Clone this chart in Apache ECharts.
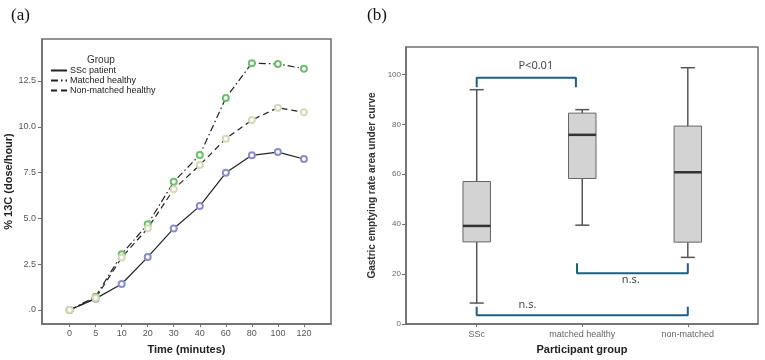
<!DOCTYPE html>
<html>
<head>
<meta charset="utf-8">
<script src="https://cdn.jsdelivr.net/npm/echarts@6/dist/echarts.min.js"></script>
<style>
  html, body { margin: 0; padding: 0; background: #fff; }
  #chart { width: 765px; height: 360px; }
</style>
</head>
<body>
<div id="chart"></div>
<script>
// (a) 呼气试验曲线
var times = ['0', '5', '10', '20', '30', '40', '60', '80', '100', '120'];
var sscPatient = [0, 0.62, 1.42, 2.89, 4.45, 5.67, 7.49, 8.44, 8.62, 8.24];
var matchedHealthy = [0, 0.73, 3.04, 4.68, 7.0, 8.46, 11.57, 13.47, 13.43, 13.17];
var nonMatchedHealthy = [0, 0.65, 2.86, 4.46, 6.59, 7.91, 9.35, 10.37, 11.04, 10.79];
var leftTicks = [0, 2.5, 5, 7.5, 10, 12.5];

// (b) 箱线图: [min, Q1, median, Q3, max]
var groups = ['SSc', 'matched healthy', 'non-matched'];
var boxSSc = [8.4, 32.9, 39.3, 57.1, 93.9];
var boxMatched = [39.6, 58.3, 75.8, 84.5, 85.9];
var boxNonMatched = [26.7, 32.8, 60.8, 79.3, 102.7];
var rightTicks = [0, 20, 40, 60, 80, 100];

// 显著性标注
var bracketP = [[0, 94.9], [0, 98.7], [0.94, 98.7], [0.94, 94.9]];
var bracketNs1 = [[0.95, 24.3], [0.95, 20.3], [2, 20.3], [2, 24.3]];
var bracketNs2 = [[0, 6.9], [0, 3.5], [2, 3.5], [2, 6.9]];
var notes = [
  { name: 'P<0.01', value: [0.56, 103.3] },
  { name: 'n.s.', value: [1.46, 17.6] },
  { name: 'n.s.', value: [0.48, 7.7] }
];

function toPoints(arr) {
  return arr.map(function (v, i) { return [i, v]; });
}

var boxData = [boxSSc, boxMatched, boxNonMatched].map(function (b, i) {
  return [i].concat(b);
});

var axisGray = '#6e6e6e';
var titleStyle = { color: '#222', fontSize: 11, fontWeight: 'bold', fontFamily: 'Liberation Sans' };
var bracketColor = '#1f5f80';

var myChart = echarts.init(document.getElementById('chart'));
var option = {
  animation: false,
  title: [
    { text: '(a)', left: 6, top: 2, textStyle: { fontFamily: 'Liberation Serif', fontSize: 17, fontWeight: 'normal', color: '#111' } },
    { text: '(b)', left: 362, top: 2, textStyle: { fontFamily: 'Liberation Serif', fontSize: 17, fontWeight: 'normal', color: '#111' } },
    { text: 'Group', left: 87, top: 55, padding: 0, textStyle: { fontFamily: 'Liberation Sans', fontSize: 10, fontWeight: 'normal', color: '#333' } }
  ],
  legend: {
    orient: 'vertical',
    left: 50,
    top: 66,
    padding: 0,
    itemWidth: 16,
    itemHeight: 8,
    itemGap: 1,
    itemStyle: { opacity: 0 },
    textStyle: { fontSize: 9, color: '#222', fontFamily: 'Liberation Sans', padding: [0, 0, 0, -2] },
    data: ['SSc patient', 'Matched healthy', 'Non-matched healthy']
  },
  grid: [
    { left: 42, top: 39, width: 289, height: 285, show: true, borderColor: axisGray, borderWidth: 1.5, backgroundColor: 'transparent' },
    { left: 406, top: 47, width: 352, height: 278, show: true, borderColor: axisGray, borderWidth: 1.5, backgroundColor: 'transparent' }
  ],
  xAxis: [
    {
      gridIndex: 0,
      type: 'value',
      min: -1.06,
      max: 10.04,
      name: 'Time (minutes)',
      nameLocation: 'middle',
      nameGap: 20,
      nameTextStyle: titleStyle,
      splitLine: { show: false },
      axisLine: { show: true, onZero: false, lineStyle: { color: axisGray, width: 1.5 } },
      axisTick: { show: true, length: 3, customValues: [0, 1, 2, 3, 4, 5, 6, 7, 8, 9], lineStyle: { color: axisGray } },
      axisLabel: {
        margin: 5,
        customValues: [0, 1, 2, 3, 4, 5, 6, 7, 8, 9],
        formatter: function (v) { return times[Math.round(v)]; },
        color: '#555', fontSize: 9, fontFamily: 'Liberation Sans'
      }
    },
    {
      gridIndex: 1,
      type: 'value',
      min: -0.67,
      max: 2.665,
      name: 'Participant group',
      nameLocation: 'middle',
      nameGap: 20,
      nameTextStyle: titleStyle,
      splitLine: { show: false },
      axisLine: { show: true, onZero: false, lineStyle: { color: axisGray, width: 1.5 } },
      axisTick: { show: true, length: 3, customValues: [0, 1, 2], lineStyle: { color: axisGray } },
      axisLabel: {
        margin: 6,
        customValues: [0, 1, 2],
        formatter: function (v) { return groups[Math.round(v)]; },
        color: '#666', fontSize: 9, fontFamily: 'Liberation Sans'
      }
    }
  ],
  yAxis: [
    {
      gridIndex: 0,
      type: 'value',
      min: -0.764,
      max: 14.79,
      name: '% 13C (dose/hour)',
      nameLocation: 'middle',
      nameGap: 24,
      nameTextStyle: titleStyle,
      splitLine: { show: false },
      axisLine: { show: true, onZero: false, lineStyle: { color: axisGray, width: 1.5 } },
      axisTick: { show: true, length: 4, customValues: leftTicks, lineStyle: { color: axisGray } },
      axisLabel: {
        margin: 6,
        customValues: leftTicks,
        formatter: function (v) { return v === 0 ? '.0' : v.toFixed(1); },
        color: '#555', fontSize: 9, fontFamily: 'Liberation Sans'
      }
    },
    {
      gridIndex: 1,
      type: 'value',
      min: 0,
      max: 111,
      name: 'Gastric emptying rate area under curve',
      nameLocation: 'middle',
      nameGap: 29,
      nameTextStyle: { color: '#333', fontSize: 10, fontWeight: 'bold', fontFamily: 'Liberation Sans' },
      splitLine: { show: false },
      axisLine: { show: true, onZero: false, lineStyle: { color: axisGray, width: 1.5 } },
      axisTick: { show: true, length: 4, customValues: rightTicks, lineStyle: { color: axisGray } },
      axisLabel: {
        margin: 5,
        customValues: rightTicks,
        color: '#666', fontSize: 8, fontFamily: 'Liberation Sans'
      }
    }
  ],
  series: [
    {
      name: 'SSc patient',
      type: 'line',
      xAxisIndex: 0, yAxisIndex: 0,
      data: toPoints(sscPatient),
      symbol: 'emptyCircle',
      symbolSize: 6,
      lineStyle: { color: '#222', width: 1.2, type: 'solid' },
      itemStyle: { color: '#8a8ccc', borderWidth: 1 }
    },
    {
      name: 'Matched healthy',
      type: 'line',
      xAxisIndex: 0, yAxisIndex: 0,
      data: toPoints(matchedHealthy),
      symbol: 'emptyCircle',
      symbolSize: 6,
      lineStyle: { color: '#222', width: 1.2, type: [7, 3, 1.5, 3] },
      itemStyle: { color: '#6cc06c', borderWidth: 1 }
    },
    {
      name: 'Non-matched healthy',
      type: 'line',
      xAxisIndex: 0, yAxisIndex: 0,
      data: toPoints(nonMatchedHealthy),
      symbol: 'emptyCircle',
      symbolSize: 6,
      lineStyle: { color: '#222', width: 1.2, type: [6, 4] },
      itemStyle: { color: '#d6d9b8', borderWidth: 1 }
    },
    {
      type: 'custom',
      xAxisIndex: 1, yAxisIndex: 1,
      data: boxData,
      encode: { x: 0, y: [1, 2, 3, 4, 5] },
      renderItem: function (params, api) {
        var x = api.value(0);
        var lo = api.coord([x, api.value(1)]);
        var q1 = api.coord([x, api.value(2)]);
        var md = api.coord([x, api.value(3)]);
        var q3 = api.coord([x, api.value(4)]);
        var hi = api.coord([x, api.value(5)]);
        var cx = lo[0];
        var bw = 27.5, cw = 14;
        var ws = { stroke: '#555', lineWidth: 1.5 };
        return {
          type: 'group',
          children: [
            { type: 'line', shape: { x1: cx, y1: hi[1], x2: cx, y2: q3[1] }, style: ws },
            { type: 'line', shape: { x1: cx, y1: q1[1], x2: cx, y2: lo[1] }, style: ws },
            { type: 'line', shape: { x1: cx - cw / 2, y1: hi[1], x2: cx + cw / 2, y2: hi[1] }, style: ws },
            { type: 'line', shape: { x1: cx - cw / 2, y1: lo[1], x2: cx + cw / 2, y2: lo[1] }, style: ws },
            { type: 'rect', shape: { x: cx - bw / 2, y: q3[1], width: bw, height: q1[1] - q3[1] }, style: { fill: '#d3d3d3', stroke: '#666', lineWidth: 1 } },
            { type: 'line', shape: { x1: cx - bw / 2, y1: md[1], x2: cx + bw / 2, y2: md[1] }, style: { stroke: '#333', lineWidth: 2.5 } }
          ]
        };
      }
    },
    {
      type: 'line', xAxisIndex: 1, yAxisIndex: 1, data: bracketP,
      symbol: 'none', silent: true, lineStyle: { color: bracketColor, width: 2 }
    },
    {
      type: 'line', xAxisIndex: 1, yAxisIndex: 1, data: bracketNs1,
      symbol: 'none', silent: true, lineStyle: { color: bracketColor, width: 2 }
    },
    {
      type: 'line', xAxisIndex: 1, yAxisIndex: 1, data: bracketNs2,
      symbol: 'none', silent: true, lineStyle: { color: bracketColor, width: 2 }
    },
    {
      type: 'scatter', xAxisIndex: 1, yAxisIndex: 1, data: notes,
      symbolSize: 0, silent: true,
      label: {
        show: true,
        position: 'inside',
        formatter: '{b}',
        color: '#111',
        fontSize: 11,
        fontFamily: 'Noto Sans'
      }
    }
  ]
};
myChart.setOption(option);
</script>
</body>
</html>
